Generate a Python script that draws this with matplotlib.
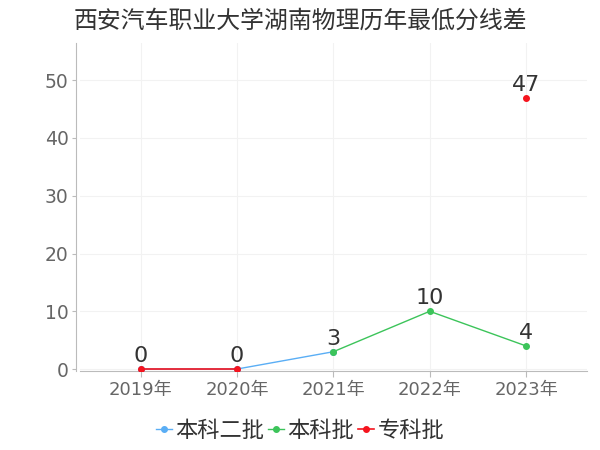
import numpy as np
import matplotlib.pyplot as plt

plt.rcParams['font.family'] = ['DejaVu Sans', 'Noto Sans CJK SC']

years = ['2019年', '2020年', '2021年', '2022年', '2023年']
benke2 = [0, 0, 3, np.nan, np.nan]
benke = [np.nan, np.nan, 3, 10, 4]
zhuanke = [0, 0, np.nan, np.nan, 47]

fig = plt.figure(figsize=(6, 4.5), dpi=100)
ax = fig.add_axes([0.133, 0.176, 0.845, 0.728])
x = np.arange(len(years))

ax.plot(x, benke2, color='#5aaef5', lw=1, marker='o', ms=4, label='本科二批', zorder=3)
ax.plot(x, benke, color='#3cc45a', lw=1, marker='o', ms=4, label='本科批', zorder=4)
ax.plot(x, zhuanke, color='#f5141e', lw=1.2, marker='o', ms=4, label='专科批', zorder=5)

labels = {0: 0, 1: 0, 2: 3, 3: 10, 4: 4}
for i, v in labels.items():
    ax.text(i, v + 0.5, str(v), ha='center', va='bottom', fontsize=16, color='#333333')
ax.text(4, 47 + 0.5, '47', ha='center', va='bottom', fontsize=16, color='#333333')

ax.set_xlim(-0.63, 4.63)
ax.set_ylim(-0.3, 56.4)
ax.set_xticks(x)
ax.set_xticklabels(years)
ax.set_yticks([0, 10, 20, 30, 40, 50])
ax.tick_params(axis='x', colors='#bbbbbb', labelcolor='#666666', labelsize=13, length=4)
ax.tick_params(axis='y', colors='#bbbbbb', labelcolor='#666666', labelsize=13.5, length=3, pad=2)
ax.grid(True, color='#f2f2f2', lw=0.8)
for s in ['top', 'right']:
    ax.spines[s].set_visible(False)
for s in ['left', 'bottom']:
    ax.spines[s].set_color('#bbbbbb')
ax.spines['left'].set_position(('outward', 3))

fig.suptitle('西安汽车职业大学湖南物理历年最低分线差', x=0.5, y=0.98, fontsize=17.2, color='#333333')
fig.legend(loc='lower center', bbox_to_anchor=(0.5, -0.025), ncol=3, frameon=False,
           fontsize=16, handlelength=0.7, handletextpad=0.15, columnspacing=0.2,
           labelcolor='#333333')

fig.savefig('out.png', dpi=100)
